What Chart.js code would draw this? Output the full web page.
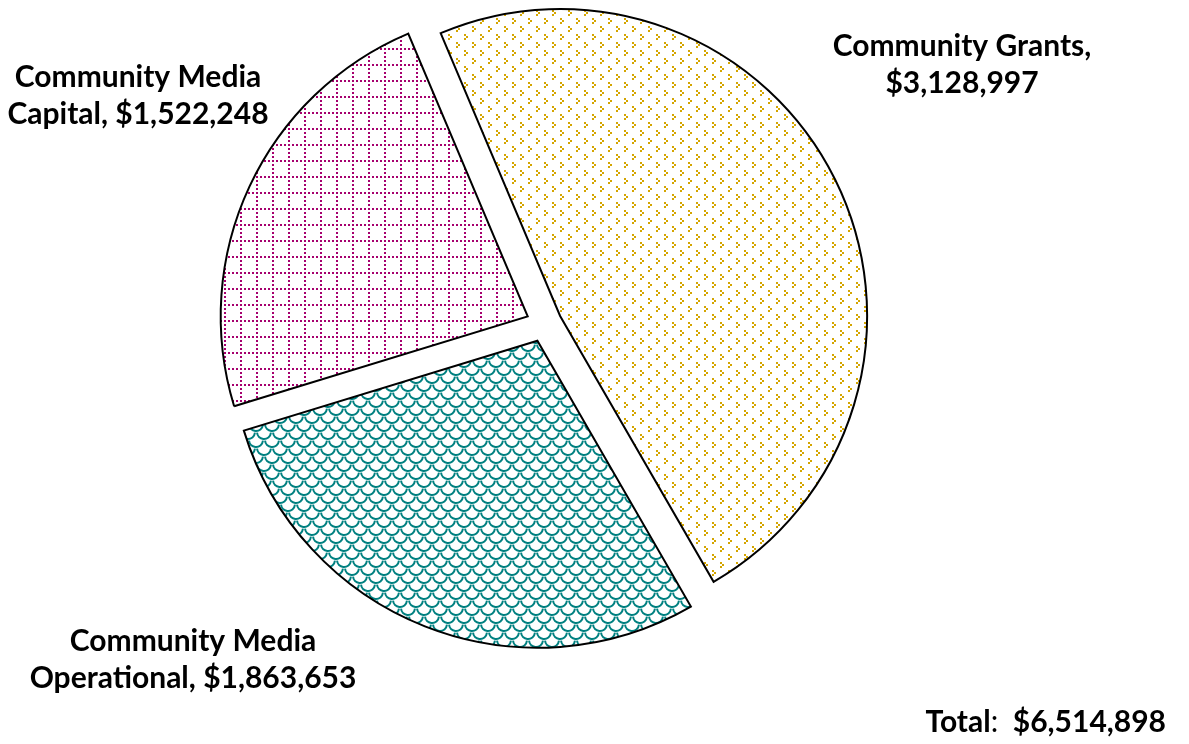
<!DOCTYPE html>
<html><head><meta charset="utf-8">
<script src="https://cdn.jsdelivr.net/npm/chart.js@4"></script>
<style>html,body{margin:0;padding:0;background:#fff;} #wrap{position:relative;width:1189px;height:744px;}</style>
</head><body><div id="wrap"><canvas id="c"></canvas></div>
<script>
// ---- data ----
const categoryLines = [["Community Grants"], ["Community Media", "Operational"], ["Community Media", "Capital"]];
const categories = categoryLines.map(l => l.join(" "));
const amounts = [3128997, 1863653, 1522248];
const totalLabel = "Total";

function money(v){ return "$" + String(v).replace(/\B(?=(\d{3})+(?!\d))/g, ","); }

const canvas = document.getElementById('c');
const mainCtx = canvas.getContext('2d');
function makePattern(draw){
  const t = document.createElement('canvas'); t.width = 16; t.height = 16;
  const g = t.getContext('2d'); g.fillStyle = '#fff'; g.fillRect(0,0,16,16);
  draw(g);
  return mainCtx.createPattern(t, 'repeat');
}
const yellowPat = makePattern(g => {
  g.fillStyle = '#D4A500';
  const motif = (x,y) => { g.fillRect(x,y,2,2); g.fillRect(x+2,y+2,2,2); g.fillRect(x,y+4,2,2); };
  motif(0,2); motif(8,10);
});
const tealPat = makePattern(g => {
  g.strokeStyle = '#008080'; g.lineWidth = 2;
  g.beginPath(); g.arc(8,0,7,0.1,Math.PI-0.1); g.stroke();
  g.beginPath(); g.arc(0,8,7,0.1,Math.PI-0.1); g.stroke();
  g.beginPath(); g.arc(16,8,7,0.1,Math.PI-0.1); g.stroke();
});
const magentaPat = makePattern(g => {
  g.fillStyle = '#A6006E';
  for (let k = 0; k < 4; k++){ g.fillRect(0,4*k,2,2); g.fillRect(4*k,0,2,2); }
});

const explodePlugin = {
  id: 'explode',
  afterDatasetsUpdate(chart, args, opts){
    chart.getDatasetMeta(0).data.forEach(a => {
      const m = (a.startAngle + a.endAngle) / 2;
      a.x += Math.cos(m) * opts.distance;
      a.y += Math.sin(m) * opts.distance;
    });
  }
};

const labelPlugin = {
  id: 'sliceLabels',
  afterDraw(chart, args, opts){
    const ctx = chart.ctx;
    ctx.save();
    ctx.fillStyle = '#000';
    ctx.textAlign = 'center';
    ctx.textBaseline = 'alphabetic';
    ctx.font = 'bold ' + opts.size + 'px ' + opts.family;
    amounts.forEach((v, i) => {
      const names = categoryLines[i];
      let lines;
      if (names.length === 1) lines = [names[0] + ",", money(v)];
      else lines = [names[0], names[1] + ", " + money(v)];
      const p = opts.anchors[i];
      lines.forEach((ln, j) => ctx.fillText(ln, p.x, p.y + j * opts.lineHeight));
    });
    // total
    const total = amounts.reduce((a,b) => a + b, 0);
    const bold = 'bold ' + opts.size + 'px ' + opts.family;
    const reg = opts.size + 'px ' + opts.family;
    ctx.textAlign = 'left';
    const valTxt = "  " + money(total);
    ctx.font = bold; const w1 = ctx.measureText(totalLabel).width; const w3 = ctx.measureText(valTxt).width;
    ctx.font = reg; const w2 = ctx.measureText(":").width;
    let x = opts.total.x - (w1 + w2 + w3);
    ctx.font = bold; ctx.fillText(totalLabel, x, opts.total.y); x += w1;
    ctx.font = reg; ctx.fillText(":", x, opts.total.y); x += w2;
    ctx.font = bold; ctx.fillText(valTxt, x, opts.total.y);
    ctx.restore();
  }
};

new Chart(canvas, {
  type: 'pie',
  data: {
    labels: categories,
    datasets: [{
      data: amounts,
      backgroundColor: [yellowPat, tealPat, magentaPat],
      borderColor: '#000',
      borderWidth: 2,
      borderJoinStyle: 'miter',
      borderAlign: 'center'
    }]
  },
  options: {
    responsive: true,
    maintainAspectRatio: false,
    animation: false,
    rotation: -22.9,
    radius: 307,
    layout: { padding: { left: 200, right: 301, top: 2, bottom: 98 } },
    plugins: {
      legend: { display: false },
      tooltip: { enabled: false },
      explode: { distance: 18 },
      sliceLabels: {
        family: 'Lato', size: 30, lineHeight: 37,
        anchors: [{x: 962, y: 56}, {x: 193, y: 651}, {x: 138, y: 87}],
        total: {x: 1166, y: 732}
      }
    }
  },
  plugins: [explodePlugin, labelPlugin]
});
</script>
</body></html>
